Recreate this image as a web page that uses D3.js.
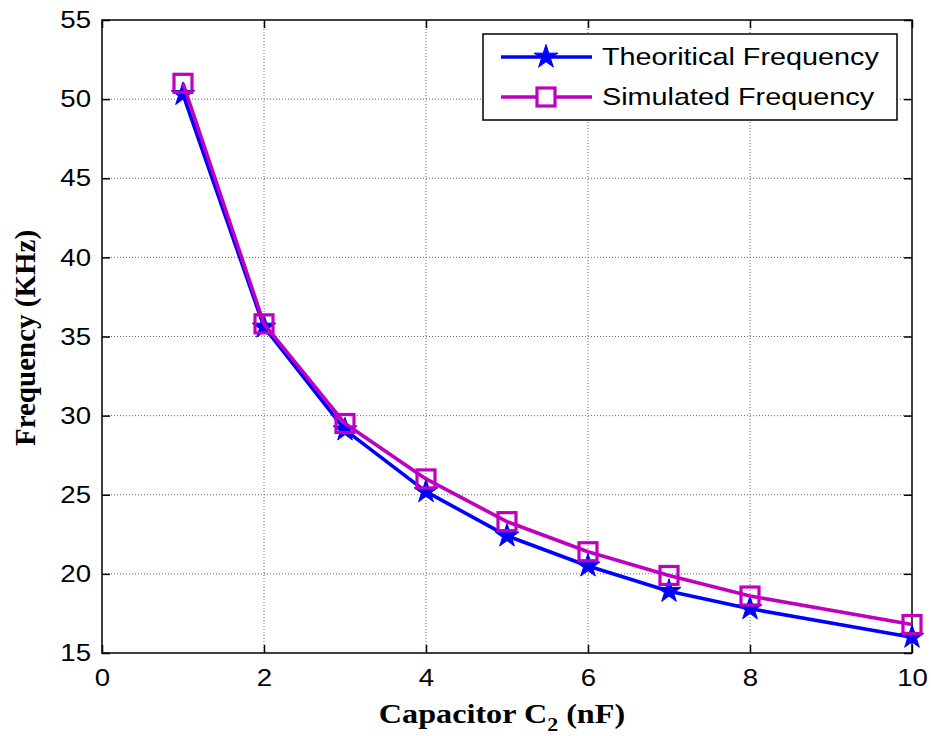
<!DOCTYPE html>
<html><head><meta charset="utf-8">
<script src="https://cdn.jsdelivr.net/npm/d3@7"></script>
<style>body{margin:0;background:#fff}</style>
</head><body>
<svg id="c" width="931" height="736"></svg>
<script>
const xValues = [1, 2, 3, 4, 5, 6, 7, 8, 10];
const theoretical = [50.3, 35.6, 29.1, 25.2, 22.4, 20.5, 18.9, 17.8, 16.0];
const simulated = [51.0, 35.8, 29.5, 26.0, 23.3, 21.4, 19.9, 18.6, 16.8];
const xTicks = [0, 2, 4, 6, 8, 10];
const yTicks = [15, 20, 25, 30, 35, 40, 45, 50, 55];
const seriesNames = ["Theoritical Frequency", "Simulated Frequency"];

const svg = d3.select("#c");
const L = 102, R = 912, T = 20, B = 653;
const x = d3.scaleLinear().domain([0, 10]).range([L, R]);
const y = d3.scaleLinear().domain([15, 55]).range([B, T]);
const SX = 1.15;

// grid
const g = svg.append("g");
g.selectAll(".gx").data(xTicks.slice(1, -1)).enter().append("line")
  .attr("x1", d => x(d)).attr("x2", d => x(d)).attr("y1", T).attr("y2", B)
  .attr("stroke", "#666").attr("stroke-width", 1).attr("stroke-dasharray", "1,2");
g.selectAll(".gy").data(yTicks.slice(1, -1)).enter().append("line")
  .attr("y1", d => y(d)).attr("y2", d => y(d)).attr("x1", L).attr("x2", R)
  .attr("stroke", "#666").attr("stroke-width", 1).attr("stroke-dasharray", "1,2");

// axes
const tickLen = 8;
const padL = 11, padB = 16;
const axB = d3.axisBottom(x).tickValues(xTicks).tickSizeInner(-tickLen).tickSizeOuter(0).tickPadding(padB);
const axT = d3.axisTop(x).tickValues(xTicks).tickSizeInner(-tickLen).tickSizeOuter(0).tickFormat("");
const axLft = d3.axisLeft(y).tickValues(yTicks).tickSizeInner(-tickLen).tickSizeOuter(0).tickPadding(padL);
const axRt = d3.axisRight(y).tickValues(yTicks).tickSizeInner(-tickLen).tickSizeOuter(0).tickFormat("");
function style(sel) {
  sel.select(".domain").remove();
  sel.selectAll("line").attr("stroke", "#000").attr("stroke-width", 1.5);
  sel.selectAll("text").attr("font-family", "Liberation Sans, Arial, sans-serif").attr("font-size", 24).attr("fill", "#000");
}
svg.append("g").attr("transform", `translate(0,${B})`).call(axB).call(style)
  .selectAll("text").attr("transform", `scale(${SX},1)`);
svg.append("g").attr("transform", `translate(0,${T})`).call(axT).call(style);
svg.append("g").attr("transform", `translate(${L},0)`).call(axLft).call(style)
  .selectAll("text").attr("x", -padL / SX).attr("transform", `scale(${SX},1)`);
svg.append("g").attr("transform", `translate(${R},0)`).call(axRt).call(style);

svg.append("rect").attr("x", L).attr("y", T).attr("width", R - L).attr("height", B - T)
  .attr("fill", "none").attr("stroke", "#000").attr("stroke-width", 1.5);

// star path
function starPath(r) {
  const pts = [];
  for (let i = 0; i < 10; i++) {
    const a = -Math.PI / 2 + i * Math.PI / 5;
    const rr = i % 2 === 0 ? r : r * 0.38;
    pts.push([rr * Math.cos(a), rr * Math.sin(a)]);
  }
  return "M" + pts.map(p => p.join(",")).join("L") + "Z";
}

const line = d3.line().x(d => x(d[0])).y(d => y(d[1]));
const colors = ["#0000ff", "#bf00bf"];
const data = [theoretical, simulated].map(s => xValues.map((v, i) => [v, s[i]]));
const SQ = 18;

data.forEach((pts, k) => {
  svg.append("path").datum(pts).attr("d", line).attr("fill", "none")
    .attr("stroke", colors[k]).attr("stroke-width", 3.6).attr("stroke-linejoin", "round");
  if (k === 0) {
    svg.selectAll(".star").data(pts).enter().append("path")
      .attr("transform", d => `translate(${x(d[0])},${y(d[1])})`)
      .attr("d", starPath(12.5)).attr("fill", colors[0]).attr("stroke", colors[0]).attr("stroke-width", 1);
  } else {
    svg.selectAll(".sq").data(pts).enter().append("rect")
      .attr("x", d => x(d[0]) - SQ / 2).attr("y", d => y(d[1]) - SQ / 2).attr("width", SQ).attr("height", SQ)
      .attr("fill", "none").attr("stroke", colors[1]).attr("stroke-width", 3.2);
  }
});

// legend
const lg = svg.append("g");
lg.append("rect").attr("x", 483).attr("y", 34).attr("width", 414).attr("height", 86)
  .attr("fill", "#fff").attr("stroke", "#000").attr("stroke-width", 1.5);
const rowsY = [57, 97];
seriesNames.forEach((n, k) => {
  lg.append("line").attr("x1", 501).attr("x2", 592).attr("y1", rowsY[k]).attr("y2", rowsY[k])
    .attr("stroke", colors[k]).attr("stroke-width", 3.6);
  if (k === 0) {
    lg.append("path").attr("transform", `translate(546,${rowsY[k]})`).attr("d", starPath(12.5))
      .attr("fill", colors[0]).attr("stroke", colors[0]);
  } else {
    lg.append("rect").attr("x", 546 - SQ / 2).attr("y", rowsY[k] - SQ / 2).attr("width", SQ).attr("height", SQ)
      .attr("fill", "#fff").attr("stroke", colors[1]).attr("stroke-width", 3.2);
  }
  lg.append("text").attr("transform", `translate(602,${rowsY[k]}) scale(1.2,1)`).attr("dy", "0.35em")
    .attr("font-family", "Liberation Sans, Arial, sans-serif").attr("font-size", 24).text(n);
});

// axis labels
const xl = svg.append("text").attr("transform", `translate(502,723) scale(${SX},1)`).attr("text-anchor", "middle")
  .attr("font-family", "Liberation Serif, Times New Roman, serif").attr("font-weight", "bold").attr("font-size", 28);
xl.append("tspan").text("Capacitor C");
xl.append("tspan").attr("font-size", 19).attr("dy", 8).text("2");
xl.append("tspan").attr("dy", -8).text(" (nF)");

svg.append("text").attr("transform", "translate(35,338) rotate(-90)").attr("text-anchor", "middle")
  .attr("font-family", "Liberation Serif, Times New Roman, serif").attr("font-weight", "bold").attr("font-size", 29)
  .text("Frequency (KHz)");
</script>
</body></html>
